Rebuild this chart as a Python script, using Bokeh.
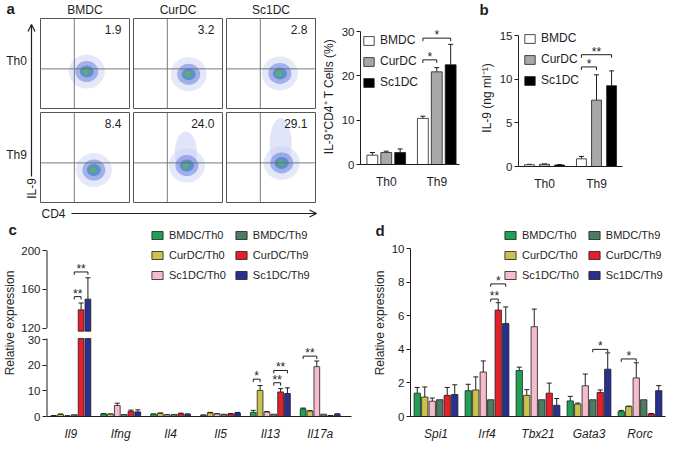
import math
from bokeh.plotting import figure
from bokeh.layouts import row, column
from bokeh.models import (Range1d, Legend, LegendItem, Label, Whisker, TeeHead,
                          ColumnDataSource, FixedTicker, Arrow, OpenHead)
from bokeh.core.properties import value
from bokeh.embed import file_html
from bokeh.resources import INLINE

FONT = "Liberation Sans"
INK = "#1e1e1e"

# ------------------------------------------------------------------ data
flow_columns = ["BMDC", "CurDC", "Sc1DC"]
flow_rows = ["Th0", "Th9"]
flow_pct_th0 = ["1.9", "3.2", "2.8"]
flow_pct_th9 = ["8.4", "24.0", "29.1"]
# centre of the CD4+ cloud in each dot plot (fraction of plot from left / from top)
cloud_x_th0 = [0.52, 0.62, 0.60]
cloud_y_th0 = [0.59, 0.62, 0.61]
cloud_x_th9 = [0.60, 0.60, 0.62]
cloud_y_th9 = [0.64, 0.59, 0.56]
tail_top_th9 = [0.0, 0.29, 0.14]          # top of the IL-9+ tail (0 = none)

ab_groups = ["Th0", "Th9"]
ab_series = ["BMDC", "CurDC", "Sc1DC"]
ab_colors = ["#ffffff", "#a8a8a8", "#000000"]

a_bmdc = [2.1, 10.4]
a_bmdc_sd = [0.6, 0.5]
a_curdc = [2.7, 20.9]
a_curdc_sd = [0.3, 0.95]
a_sc1dc = [2.7, 22.5]
a_sc1dc_sd = [0.8, 4.6]
a_yticks = [0, 10, 20, 30]
a_sig = [(1, 0, 1, 23.6, "*"), (1, 0, 2, 28.5, "*")]

b_bmdc = [0.2, 0.88]
b_bmdc_sd = [0.05, 0.27]
b_curdc = [0.25, 7.6]
b_curdc_sd = [0.05, 2.9]
b_sc1dc = [0.17, 9.25]
b_sc1dc_sd = [0.05, 1.7]
b_yticks = [0, 5, 10, 15]
b_sig = [(1, 0, 1, 11.4, "*"), (1, 0, 2, 12.8, "**")]

q_series = ["BMDC/Th0", "CurDC/Th0", "Sc1DC/Th0", "BMDC/Th9", "CurDC/Th9", "Sc1DC/Th9"]
q_colors = ["#1fa055", "#cbc14e", "#f5bccb", "#4c7c61", "#e3202b", "#2b2f8e"]

c_genes = ["Il9", "Ifng", "Il4", "Il5", "Il13", "Il17a"]
c_bmdc_th0 = [0.3, 1.0, 0.9, 0.5, 1.6, 3.0]
c_bmdc_th0_sd = [0.1, 0.1, 0.1, 0.1, 0.8, 0.3]
c_curdc_th0 = [0.8, 0.9, 1.2, 1.4, 10.2, 2.1]
c_curdc_th0_sd = [0.2, 0.1, 0.2, 0.2, 1.9, 0.2]
c_sc1dc_th0 = [0.2, 4.3, 0.6, 1.0, 1.75, 19.5]
c_sc1dc_th0_sd = [0.1, 0.9, 0.1, 0.1, 0.2, 2.2]
c_bmdc_th9 = [0.7, 0.8, 0.8, 0.9, 0.9, 0.9]
c_bmdc_th9_sd = [0.0, 0.0, 0.0, 0.0, 0.0, 0.0]
c_curdc_th9 = [139.0, 2.0, 1.1, 1.0, 9.6, 0.3]
c_curdc_th9_sd = [7.0, 0.5, 0.2, 0.15, 1.3, 0.1]
c_sc1dc_th9 = [150.0, 1.8, 0.9, 1.4, 9.0, 0.9]
c_sc1dc_th9_sd = [22.0, 0.8, 0.1, 0.2, 2.2, 0.15]
c_low_ticks = [0, 10, 20, 30]
c_high_ticks = [120, 160, 200]
c_sig = [(0, 3, 4, 152.6, "**"), (0, 3, 5, 178.0, "**"),
         (4, 0, 1, 14.6, "*"), (4, 3, 4, 13.2, "**"), (4, 3, 5, 18.0, "**"),
         (5, 0, 2, 23.6, "**")]

d_genes = ["Spi1", "Irf4", "Tbx21", "Gata3", "Rorc"]
d_bmdc_th0 = [1.39, 1.54, 2.74, 0.93, 0.29]
d_bmdc_th0_sd = [0.34, 0.38, 0.2, 0.27, 0.07]
d_curdc_th0 = [1.16, 1.58, 1.26, 0.74, 0.59]
d_curdc_th0_sd = [0.6, 0.78, 0.34, 0.06, 0.03]
d_sc1dc_th0 = [0.91, 2.65, 5.35, 1.83, 2.3]
d_sc1dc_th0_sd = [0.19, 0.66, 1.05, 0.7, 0.9]
d_bmdc_th9 = [1.0, 1.0, 1.0, 1.0, 1.0]
d_bmdc_th9_sd = [0.0, 0.0, 0.0, 0.0, 0.0]
d_curdc_th9 = [1.26, 6.34, 1.39, 1.43, 0.15]
d_curdc_th9_sd = [0.47, 0.44, 0.6, 0.15, 0.03]
d_sc1dc_th9 = [1.31, 5.54, 0.67, 2.82, 1.54]
d_sc1dc_th9_sd = [0.58, 0.99, 0.4, 0.97, 0.3]
d_yticks = [0, 2, 4, 6, 8, 10]
d_sig = [(1, 3, 4, 7.0, "**"), (1, 3, 5, 7.9, "*"), (3, 3, 5, 4.0, "*"), (4, 0, 2, 3.43, "*")]


# ------------------------------------------------------------------ helpers
def make_fig(w, h, xr, yr, bl, br, bt, bb):
    p = figure(width=w, height=h, x_range=Range1d(*xr), y_range=Range1d(*yr),
               toolbar_location=None, output_backend="svg",
               min_border_left=bl, min_border_right=br,
               min_border_top=bt, min_border_bottom=bb)
    p.grid.visible = False
    p.outline_line_color = None
    return p


def style_axes(p, yticks, xlabels, italic=False, ylabel=None, label_standoff=3,
               bounds=None, overrides=None):
    for ax in p.yaxis:
        ax.ticker = FixedTicker(ticks=yticks)
        if overrides:
            ax.major_label_overrides = overrides
        if bounds:
            ax.bounds = bounds
        ax.minor_tick_line_color = None
        ax.major_tick_in = 0
        ax.major_tick_out = 4
        ax.axis_line_color = INK
        ax.major_tick_line_color = INK
        ax.major_label_text_font = FONT
        ax.major_label_text_font_size = "11.5px"
        ax.major_label_text_color = INK
        ax.major_label_standoff = 2
        if ylabel:
            ax.axis_label = ylabel
            ax.axis_label_text_font = FONT
            ax.axis_label_text_font_size = "12px"
            ax.axis_label_text_font_style = "normal"
            ax.axis_label_text_color = INK
            ax.axis_label_standoff = label_standoff
    for ax in p.xaxis:
        ax.ticker = FixedTicker(ticks=list(range(len(xlabels))))
        ax.major_label_overrides = {i: t for i, t in enumerate(xlabels)}
        ax.minor_tick_line_color = None
        ax.major_tick_line_color = None
        ax.axis_line_color = INK
        ax.major_label_text_font = FONT
        ax.major_label_text_font_size = "12px"
        ax.major_label_text_color = INK
        ax.major_label_standoff = 4
        if italic:
            ax.major_label_text_font_style = "italic"


def whiskers(p, xs, lows, highs):
    src = ColumnDataSource(dict(base=xs, lower=lows, upper=highs))
    p.add_layout(Whisker(source=src, base="base", lower="lower", upper="upper",
                         dimension="height", line_color=INK, line_width=1,
                         upper_head=TeeHead(size=5, line_color=INK, line_width=1),
                         lower_head=None))


def draw_bars(p, means, sds, colors, step, width, ty=None, cut=None):
    """ty maps a value to the plot's y units; cut = (lower top, upper bottom) of a broken axis"""
    ty = ty or (lambda v: v)
    n = len(means)
    rends = []
    for k, (m, s, col) in enumerate(zip(means, sds, colors)):
        off = (k - (n - 1) / 2) * step
        xs = [g + off for g in range(len(m))]
        if cut is None:
            tops = [ty(v) for v in m]
        else:
            tops = [ty(v) if v <= cut[0] else ty(cut[0]) for v in m]
        r = p.vbar(x=xs, top=tops, bottom=0, width=width, fill_color=col,
                   line_color=INK, line_width=0.8)
        rends.append(r)
        if cut is not None:
            hi = [i for i in range(len(m)) if m[i] > cut[0]]
            if hi:
                p.vbar(x=[xs[i] for i in hi], top=[ty(m[i]) for i in hi],
                       bottom=[ty(cut[1])] * len(hi), width=width, fill_color=col,
                       line_color=INK, line_width=0.8)
        keep = [i for i in range(len(m)) if s[i] > 0]
        if keep:
            whiskers(p, [xs[i] for i in keep], [ty(m[i]) for i in keep],
                     [ty(m[i] + s[i]) for i in keep])
    return rends


def brackets(p, sig, n, step, tick, ty=None):
    ty = ty or (lambda v: v)
    for g, k0, k1, y, lab in sig:
        x0 = g + (k0 - (n - 1) / 2) * step
        x1 = g + (k1 - (n - 1) / 2) * step
        yy = ty(y)
        p.segment(x0=[x0, x0, x1], y0=[yy, yy, yy], x1=[x1, x0, x1],
                  y1=[yy, yy - tick, yy - tick], line_color=INK, line_width=1)
        p.text(x=[(x0 + x1) / 2], y=[yy], text=[lab], text_align="center",
               text_baseline="middle", y_offset=-3, text_font=value(FONT),
               text_font_size="12px", text_color=INK)


def make_legend(items, loc, ncols=1, gw=13, gh=11, spacing=7, size="12px"):
    return Legend(items=[LegendItem(label=l, renderers=[r]) for l, r in items],
                  location=loc, orientation="vertical", ncols=ncols,
                  glyph_width=gw, glyph_height=gh, label_height=gh, label_standoff=5,
                  spacing=spacing, padding=0, margin=0, border_line_color=None,
                  background_fill_alpha=0, label_text_font=FONT,
                  label_text_font_size=size, label_text_color=INK)


def letter(p, side, x, y, xo, yo, t):
    p.add_layout(Label(x=x, y=y, x_offset=xo, y_offset=yo, text=t, text_font=FONT,
                       text_font_size="15px", text_font_style="bold", text_color=INK,
                       text_align="left", text_baseline="middle"), side)


TOP_H, BOT_H = 220, 223

# ------------------------------------------------------------------ panel a: dot plots
FW = 318
pf = figure(width=FW, height=TOP_H, x_range=Range1d(0, FW), y_range=Range1d(TOP_H, 0),
            toolbar_location=None, output_backend="svg", min_border=0,
            x_axis_type=None, y_axis_type=None)
pf.grid.visible = False
pf.outline_line_color = None

BX0, BY0, BW, BH, GAP = 40, 18, 89, 90, 4
QX, QY = 0.38, 0.56
pcts = [flow_pct_th0, flow_pct_th9]
cxs = [cloud_x_th0, cloud_x_th9]
cys = [cloud_y_th0, cloud_y_th9]
for r in range(len(flow_rows)):
    for c in range(len(flow_columns)):
        x0 = BX0 + c * (BW + GAP)
        y0 = BY0 + r * (BH + GAP)
        cx = x0 + cxs[r][c] * BW
        cy = y0 + cys[r][c] * BH
        if r == 1 and tail_top_th9[c] > 0:
            ty_ = y0 + tail_top_th9[c] * BH
            pf.ellipse(x=[cx - 1], y=[(ty_ + cy) / 2], width=[22], height=[cy - ty_ + 14],
                       fill_color="#b4bff0", fill_alpha=0.4, line_color=None)
        pf.ellipse(x=[cx], y=[cy], width=[36], height=[34], fill_color="#c9d1f4",
                   fill_alpha=0.5, line_color=None)
        pf.ellipse(x=[cx], y=[cy], width=[23], height=[21], fill_color="#5d76de",
                   fill_alpha=0.5, line_color=None)
        pf.ellipse(x=[cx], y=[cy], width=[14], height=[12], fill_color="#3a80b8",
                   fill_alpha=0.65, line_color=None)
        pf.ellipse(x=[cx - 1], y=[cy], width=[6], height=[5], fill_color="#5ab850",
                   fill_alpha=0.85, line_color=None)
        pf.segment(x0=[x0 + QX * BW, x0], y0=[y0, y0 + QY * BH],
                   x1=[x0 + QX * BW, x0 + BW], y1=[y0 + BH, y0 + QY * BH],
                   line_color="#6a6a6a", line_width=0.9)
        pf.rect(x=[x0 + BW / 2], y=[y0 + BH / 2], width=[BW], height=[BH],
                fill_color=None, line_color="#555555", line_width=1)
        pf.text(x=[x0 + BW - 8], y=[y0 + 11], text=[pcts[r][c]], text_align="right",
                text_baseline="middle", text_font=value(FONT), text_font_size="12px",
                text_color=INK)
for c, name in enumerate(flow_columns):
    pf.text(x=[BX0 + c * (BW + GAP) + BW / 2], y=[9], text=[name], text_align="center",
            text_baseline="middle", text_font=value(FONT), text_font_size="12px",
            text_color=INK)
for r, name in enumerate(flow_rows):
    pf.text(x=[16], y=[BY0 + r * (BH + GAP) + 42], text=[name], text_align="center",
            text_baseline="middle", text_font=value(FONT), text_font_size="12px",
            text_color=INK)
pf.text(x=[6], y=[8], text=["a"], text_align="left", text_baseline="middle",
        text_font=value(FONT), text_font_size="15px", text_font_style="bold", text_color=INK)
pf.add_layout(Arrow(end=OpenHead(size=7, line_color=INK, line_width=1.2),
                    x_start=31, y_start=176, x_end=31, y_end=24,
                    line_color=INK, line_width=1.2))
pf.text(x=[31], y=[188], text=["IL-9"], angle=math.pi / 2, text_align="center",
        text_baseline="middle", text_font=value(FONT), text_font_size="12px", text_color=INK)
pf.add_layout(Arrow(end=OpenHead(size=7, line_color=INK, line_width=1.2),
                    x_start=71, y_start=213, x_end=316, y_end=213,
                    line_color=INK, line_width=1.2))
pf.text(x=[53], y=[213], text=["CD4"], text_align="center", text_baseline="middle",
        text_font=value(FONT), text_font_size="12px", text_color=INK)

# ------------------------------------------------------------------ panel a: bars
A_STEP, A_W = 0.275, 0.215
A_TOP = 30 * (TOP_H - 28 - 56) / 133
pa = make_fig(146, TOP_H, (-0.51, 1.45), (0, A_TOP), 41, 5, 28, 56)
style_axes(pa, a_yticks, ab_groups, ylabel="IL-9\u207aCD4\u207a T Cells (%)",
           label_standoff=3, bounds=(0, 30))
ra = draw_bars(pa, [a_bmdc, a_curdc, a_sc1dc], [a_bmdc_sd, a_curdc_sd, a_sc1dc_sd],
               ab_colors, A_STEP, A_W)
brackets(pa, a_sig, 3, A_STEP, 0.7)
pa.add_layout(make_legend(list(zip(ab_series, ra)), (2, 75)))

# ------------------------------------------------------------------ panel b
B_STEP, B_W = 0.29, 0.19
B_TOP = 15 * (TOP_H - 29 - 54) / 131
pb = make_fig(205, TOP_H, (-0.5, 1.5), (0, B_TOP), 54, 47, 29, 54)
style_axes(pb, b_yticks, ab_groups, ylabel="IL-9 (ng ml\u207b\u00b9)", label_standoff=3,
           bounds=(0, 15))
rb = draw_bars(pb, [b_bmdc, b_curdc, b_sc1dc], [b_bmdc_sd, b_curdc_sd, b_sc1dc_sd],
               ab_colors, B_STEP, B_W)
brackets(pb, b_sig, 3, B_STEP, 0.35)
pb.add_layout(make_legend(list(zip(ab_series, rb)), (5, 79)))
letter(pb, "left", -0.5, B_TOP, -39, 20, "b")

# ------------------------------------------------------------------ panel c (broken axis)
LO_PPU = 80 / 30            # px per unit below the break
HI_PPU = 81 / 80            # px per unit above the break
Y_HI0 = 30 + 12 / LO_PPU    # plot position of 120
HI_RATIO = HI_PPU / LO_PPU


def tc(v):
    return v if v <= 31 else Y_HI0 + (v - 120) * HI_RATIO


C_XR = (-0.488, 5.627)
C_STEP, C_W = 0.137, 0.115
C_TOP = (BOT_H - 9 - 19) / LO_PPU
c_means = [c_bmdc_th0, c_curdc_th0, c_sc1dc_th0, c_bmdc_th9, c_curdc_th9, c_sc1dc_th9]
c_sds = [c_bmdc_th0_sd, c_curdc_th0_sd, c_sc1dc_th0_sd, c_bmdc_th9_sd, c_curdc_th9_sd,
         c_sc1dc_th9_sd]
pc = make_fig(360, BOT_H, C_XR, (0, C_TOP), 44, 9, 9, 19)
c_ticks = c_low_ticks + [tc(v) for v in c_high_ticks]
style_axes(pc, c_ticks, c_genes, italic=True, ylabel="Relative expression", label_standoff=1,
           overrides={tc(v): str(v) for v in c_high_ticks})
pc.yaxis.axis_line_color = None
pc.segment(x0=[C_XR[0]] * 2, y0=[0, tc(c_high_ticks[0])], x1=[C_XR[0]] * 2,
           y1=[30.5, tc(c_high_ticks[-1])], line_color=INK, line_width=2)
rc = draw_bars(pc, c_means, c_sds, q_colors, C_STEP, C_W, ty=tc, cut=(30.5, 117))
brackets(pc, c_sig, 6, C_STEP, 3 / LO_PPU, ty=tc)
pc.add_layout(make_legend(list(zip(q_series, rc)), (104, 135), ncols=2, gw=14, gh=10,
                          spacing=8, size="11px"))
letter(pc, "right", C_XR[0], C_TOP, -38, 0, "c")

# ------------------------------------------------------------------ panel d
D_STEP, D_W = 0.147, 0.124
D_PPU = 175 / 10
D_TOP = (BOT_H - 9 - 19) / D_PPU
d_means = [d_bmdc_th0, d_curdc_th0, d_sc1dc_th0, d_bmdc_th9, d_curdc_th9, d_sc1dc_th9]
d_sds = [d_bmdc_th0_sd, d_curdc_th0_sd, d_sc1dc_th0_sd, d_bmdc_th9_sd, d_curdc_th9_sd,
         d_sc1dc_th9_sd]
pd_ = make_fig(309, BOT_H, (-0.5, 4.5), (0, D_TOP), 46, 4, 9, 19)
style_axes(pd_, d_yticks, d_genes, italic=True, ylabel="Relative expression",
           label_standoff=2, bounds=(0, 10))
rd = draw_bars(pd_, d_means, d_sds, q_colors, D_STEP, D_W)
brackets(pd_, d_sig, 6, D_STEP, 3 / D_PPU)
pd_.add_layout(make_legend(list(zip(q_series, rd)), (93, 135), ncols=2, gw=14, gh=10,
                           spacing=8, size="11px"))
letter(pd_, "left", -0.5, D_TOP, -35, -1, "d")

layout = column(row(column(pf), column(pa), column(pb)),
                row(column(pc), column(pd_)))
open("out.html", "w").write(file_html(layout, INLINE))
